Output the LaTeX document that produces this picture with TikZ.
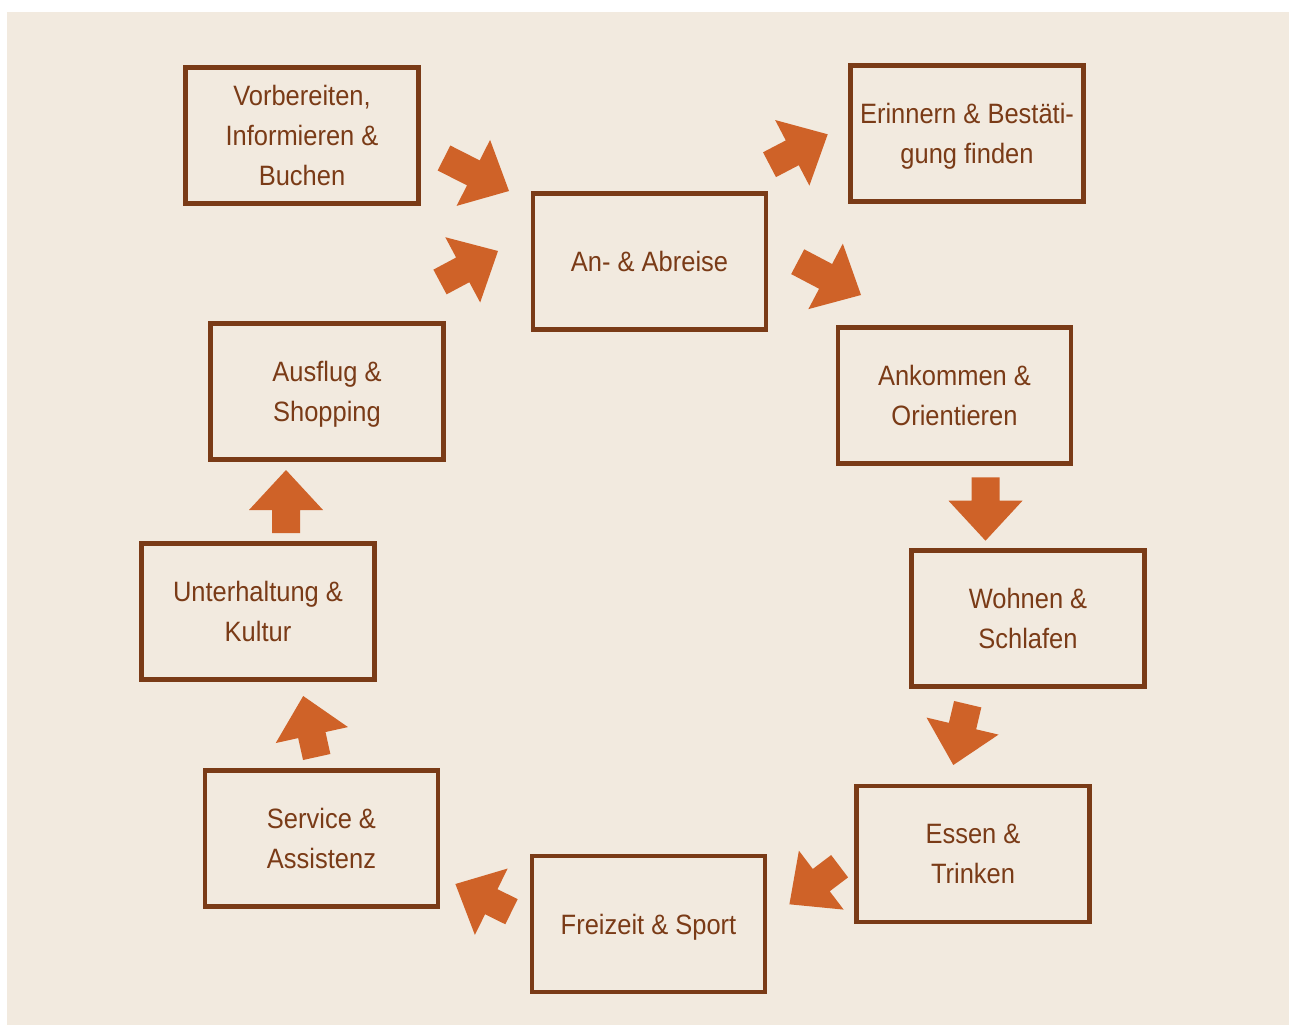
\documentclass[tikz,border=0pt]{standalone}
\usepackage{fontspec}
\setmainfont{Liberation Sans}[FakeStretch=0.91]
\usetikzlibrary{calc}

\definecolor{paper}{HTML}{F2EADF}
\definecolor{bark}{HTML}{7A3B17}
\definecolor{rust}{HTML}{CF6228}

\tikzset{
  stage/.style={draw=bark, line width=4.5pt, text=bark, align=center,
    minimum width=233pt, minimum height=136pt, inner sep=0pt,
    font=\fontsize{28}{40}\selectfont, text depth=-6pt},
  flowfill/.style={fill=rust}
}

% block arrow from tail (#1) to tip (#2)
\newcommand\flowarrow[2]{%
  \coordinate (hb) at ($(#2)!40pt!(#1)$);
  \fill[flowfill] ($(#1)!14pt!90:(#2)$) -- ($(hb)!14pt!90:(#2)$)
    -- ($(hb)!37pt!90:(#2)$) -- (#2) -- ($(hb)!37pt!-90:(#2)$)
    -- ($(hb)!14pt!-90:(#2)$) -- ($(#1)!14pt!-90:(#2)$) -- cycle;
}

\begin{document}
\begin{tikzpicture}[x=1pt,y=-1pt]

  % Canvas and background
  \useasboundingbox[fill=white] (0,0) rectangle (1289,1025);
  \fill[paper] (7,12) rectangle (1289,1025);

  % Draw the stages
  \node[stage] (vorb)  at (302,135.5)  {Vorbereiten,\\Informieren \&\\Buchen};
  \node[stage] (anab)  at (649.5,261.5) {An- \& Abreise};
  \node[stage] (erin)  at (967,133.5)  {Erinnern \& Bestäti-\\gung finden};
  \node[stage] (ank)   at (954.5,395.5) {Ankommen \&\\Orientieren};
  \node[stage] (wohn)  at (1028,618.5) {Wohnen \&\\Schlafen};
  \node[stage] (essen) at (973,854)    {Essen \&\\Trinken};
  \node[stage] (frei)  at (648.5,924)  {Freizeit \& Sport};
  \node[stage] (serv)  at (321.5,838.5) {Service \&\\Assistenz};
  \node[stage] (unter) at (258,611.5)  {Unterhaltung \&\\Kultur};
  \node[stage] (ausf)  at (327,391.5)  {Ausflug \&\\Shopping};

  % Tails and tips of the arrows
  \coordinate (t1) at (444,158);     \coordinate (p1) at (509,191);
  \coordinate (t2) at (769.5,164.7); \coordinate (p2) at (827.7,134.3);
  \coordinate (t3) at (797.7,261.7); \coordinate (p3) at (861,295);
  \coordinate (t4) at (985.5,477.3); \coordinate (p4) at (985.5,540.7);
  \coordinate (t5) at (967.7,704.2); \coordinate (p5) at (953.3,765);
  \coordinate (t6) at (839.6,866.2); \coordinate (p6) at (789.4,904.3);
  \coordinate (t7) at (511.5,911.7); \coordinate (p7) at (455.4,884);
  \coordinate (t8) at (316.7,757);   \coordinate (p8) at (303.2,696);
  \coordinate (t9) at (286,533);     \coordinate (p9) at (286,470);
  \coordinate (t10) at (440,282);    \coordinate (p10) at (498,251);

  % Draw the arrows
  \foreach \i in {1,...,10} {
    \flowarrow{t\i}{p\i}
  }

\end{tikzpicture}
\end{document}
